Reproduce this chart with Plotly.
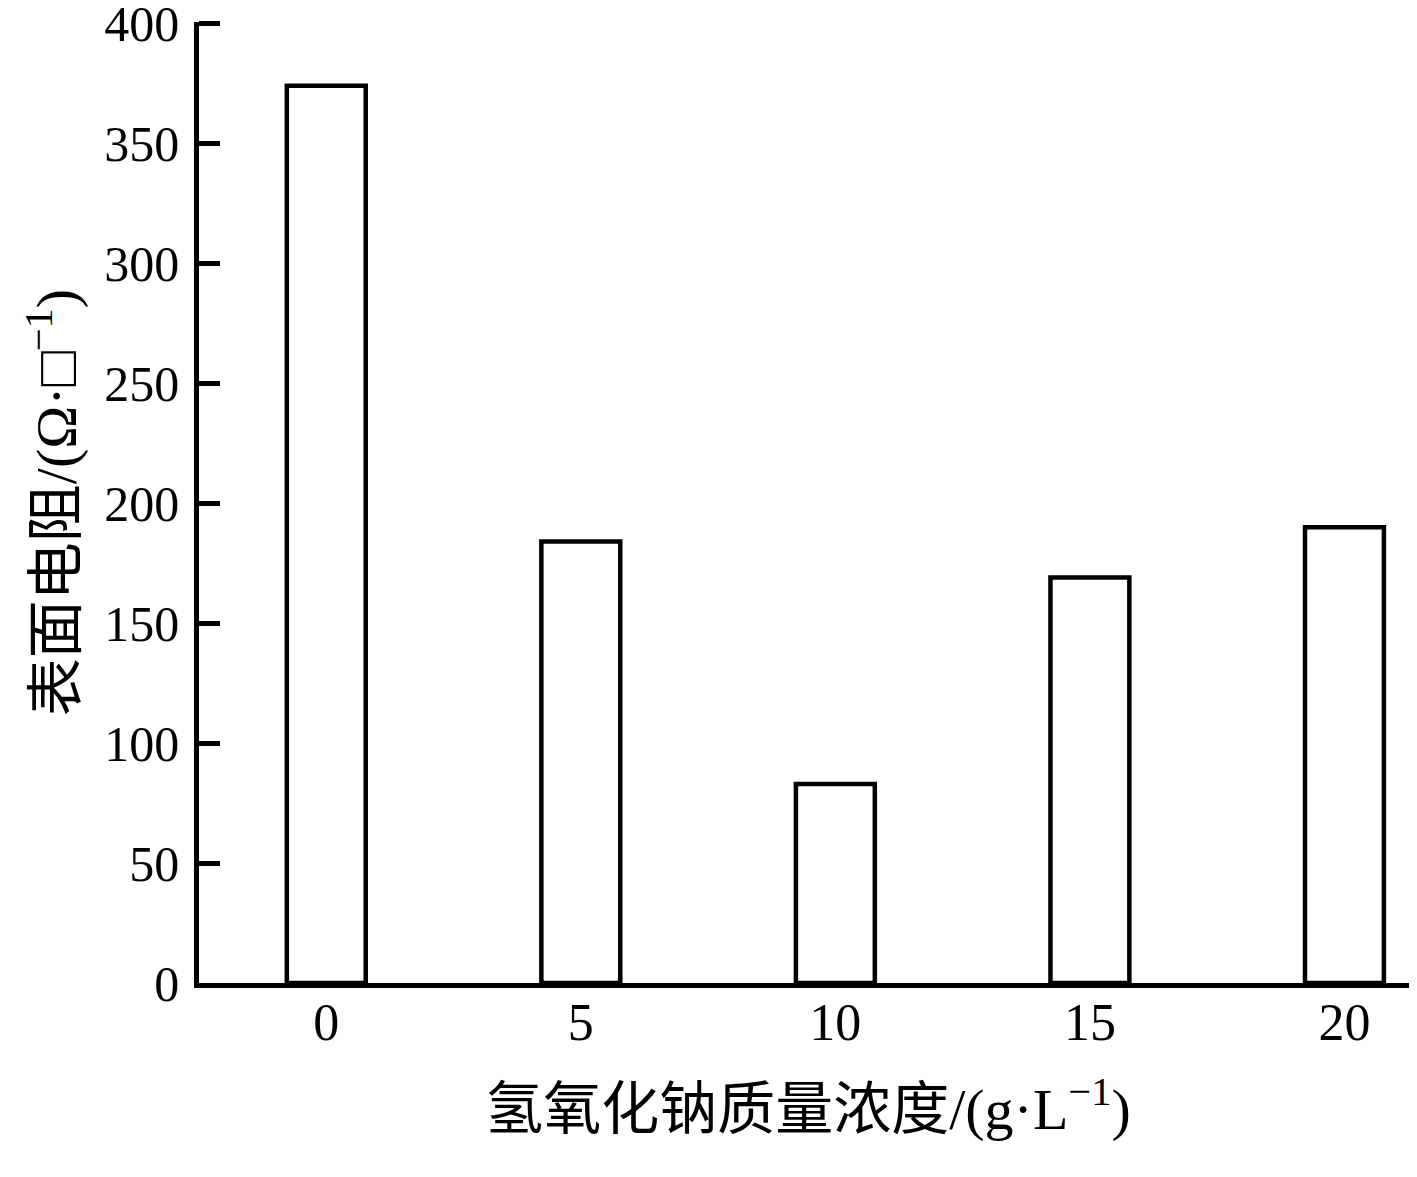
import plotly.graph_objects as go

categories = ["0", "5", "10", "15", "20"]
resistance = [374, 184, 83, 169, 190]
y_ticks = [0, 50, 100, 150, 200, 250, 300, 350, 400]

font_family = "Liberation Serif, Times New Roman, Noto Sans CJK SC, serif"

x_title = "氢氧化钠质量浓度/(g·L<sup>−1</sup>)"
y_title = "表面电阻/(Ω·□<sup>−1</sup>)"

fig = go.Figure()
fig.add_trace(go.Bar(
    x=categories,
    y=resistance,
    width=0.31,
    marker=dict(color="white", line=dict(color="black", width=4.5)),
    showlegend=False,
))

fig.update_layout(
    width=1409,
    height=1169,
    paper_bgcolor="white",
    plot_bgcolor="white",
    margin=dict(l=191, r=0, t=14, b=194),
    font=dict(family=font_family, color="black"),
    xaxis=dict(
        type="category",
        range=[-0.5, 4.285],
        automargin=False,
        showline=True,
        linecolor="black",
        linewidth=4.5,
        ticks="",
        showgrid=False,
        zeroline=False,
        tickfont=dict(size=52, family=font_family),
        ticklabelstandoff=-10,
        title=dict(
            text=x_title,
            font=dict(size=58, family=font_family),
            standoff=40,
        ),
    ),
    yaxis=dict(
        range=[0, 400.6],
        automargin=False,
        tickvals=y_ticks,
        showline=True,
        linecolor="black",
        linewidth=4.5,
        ticks="inside",
        ticklen=21,
        tickwidth=4.5,
        tickcolor="black",
        showgrid=False,
        zeroline=False,
        tickfont=dict(size=50, family=font_family),
        ticklabelstandoff=5,
        ticklabeloverflow="allow",
        title=dict(
            text=y_title,
            font=dict(size=58, family=font_family),
            standoff=10,
        ),
    ),
)

fig.write_html("out.html")
